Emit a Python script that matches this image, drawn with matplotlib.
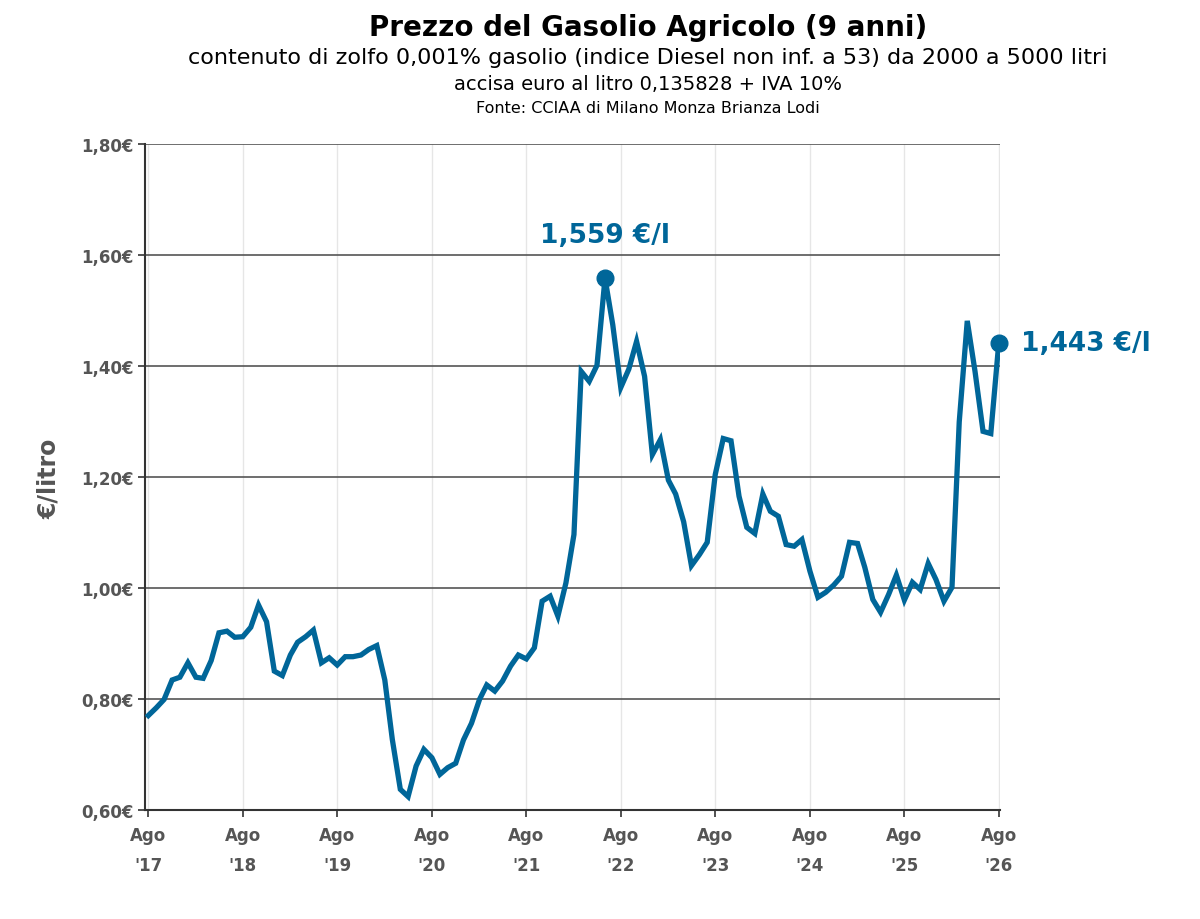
import matplotlib
matplotlib.use("Agg")
import matplotlib.pyplot as plt
import pandas as pd
import numpy as np

values = [0.771,0.785,0.80,0.835,0.84,0.866,0.84,0.838,0.87,0.92,0.923,0.912,0.913,0.93,0.97,0.94,
          0.851,0.843,0.88,0.903,0.913,0.925,0.866,0.875,0.862,0.877,0.877,0.88,0.89,0.897,0.835,
          0.728,0.638,0.625,0.68,0.71,0.695,0.665,0.677,0.685,0.727,0.757,0.80,0.826,0.815,0.833,
          0.86,0.88,0.873,0.893,0.977,0.986,0.95,1.01,1.097,1.391,1.373,1.402,1.559,1.475,1.362,
          1.395,1.445,1.382,1.241,1.268,1.195,1.17,1.12,1.041,1.061,1.083,1.205,1.27,1.266,1.166,
          1.110,1.099,1.17,1.139,1.13,1.079,1.076,1.088,1.031,0.984,0.993,1.006,1.022,1.083,1.081,
          1.038,0.98,0.957,0.989,1.024,0.979,1.011,0.998,1.045,1.016,0.977,1.002,1.30,1.482,1.391,
          1.283,1.279,1.443]
dates = pd.date_range(end="2026-08-01", periods=len(values), freq="MS")
tick_years = list(range(2017, 2027))
tick_labels = [f"Ago\n'{y % 100:02d}" for y in tick_years]
y_ticks = [0.6, 0.8, 1.0, 1.2, 1.4, 1.6, 1.8]
y_labels = ["0,60€", "0,80€", "1,00€", "1,20€", "1,40€", "1,60€", "1,80€"]

color = "#006699"
fig = plt.figure(figsize=(12, 9.2), dpi=100)
ax = fig.add_axes([0.121, 0.118, 0.712, 0.724])
ax.plot(dates, values, color=color, lw=3.8, solid_joinstyle="miter", zorder=3)

peak_i = int(np.argmax(values))
ax.plot(dates[peak_i], values[peak_i], "o", color=color, ms=12, zorder=4)
ax.plot(dates[-1], values[-1], "o", color=color, ms=12, zorder=4, clip_on=False)
ax.annotate(f"{values[peak_i]:.3f} €/l".replace(".", ","), (dates[peak_i], values[peak_i]),
            xytext=(0, 22), textcoords="offset points", ha="center", va="bottom",
            color=color, fontsize=19, fontweight="bold")
ax.annotate(f"{values[-1]:.3f} €/l".replace(".", ","), (dates[-1], values[-1]),
            xytext=(16, 0), textcoords="offset points", ha="left", va="center",
            color=color, fontsize=19, fontweight="bold", annotation_clip=False)

tick_dates = [pd.Timestamp(f"{y}-08-01") for y in tick_years]
ax.set_xticks(tick_dates)
ax.set_xticklabels(tick_labels, fontsize=12, fontweight="bold", color="#555555", linespacing=1.9)
ax.set_xlim(pd.Timestamp("2017-08-01") - pd.Timedelta(days=12), pd.Timestamp("2026-08-01") + pd.Timedelta(days=3))
ax.set_ylim(0.6, 1.8)
ax.set_yticks(y_ticks)
ax.set_yticklabels(y_labels, fontsize=12, fontweight="bold", color="#555555")
ax.set_ylabel("€/litro", fontsize=17, fontweight="bold", color="#555555", labelpad=14)
ax.grid(axis="y", color="#555555", lw=1.2)
ax.grid(axis="x", color="#e6e6e6", lw=1)
ax.set_axisbelow(True)
for s in ["top", "right"]:
    ax.spines[s].set_visible(False)
ax.spines["left"].set_color("#333333")
ax.spines["left"].set_linewidth(1.5)
ax.spines["bottom"].set_color("#333333")
ax.spines["bottom"].set_linewidth(1.5)
ax.tick_params(axis="both", colors="#333333", length=5, width=1.2)
ax.tick_params(axis="x", pad=6)
for lab in ax.get_xticklabels() + ax.get_yticklabels():
    lab.set_color("#555555")

fig.text(0.54, 0.985, "Prezzo del Gasolio Agricolo (9 anni)", ha="center", va="top",
         fontsize=20, fontweight="bold")
fig.text(0.54, 0.948, "contenuto di zolfo 0,001% gasolio (indice Diesel non inf. a 53) da 2000 a 5000 litri",
         ha="center", va="top", fontsize=16)
fig.text(0.54, 0.918, "accisa euro al litro 0,135828 + IVA 10%", ha="center", va="top", fontsize=14)
fig.text(0.54, 0.89, "Fonte: CCIAA di Milano Monza Brianza Lodi", ha="center", va="top", fontsize=11.5)

fig.savefig("out.png", dpi=100, facecolor="white")
